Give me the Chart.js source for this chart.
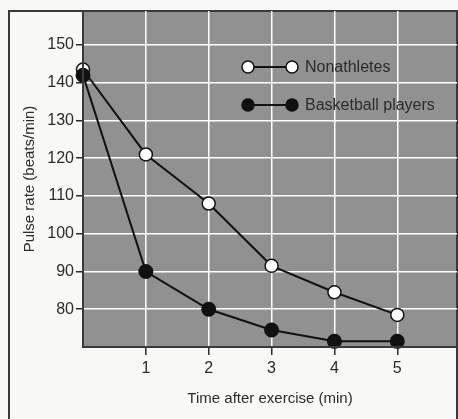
<!DOCTYPE html>
<html>
<head>
<meta charset="utf-8">
<script src="https://cdn.jsdelivr.net/npm/chart.js@4"></script>
<style>
  html, body { margin: 0; padding: 0; background: #f8f8f6; }
  #wrap { width: 458px; height: 419px; }
</style>
</head>
<body>
<div id="wrap"><canvas id="pulse"></canvas></div>
<script>
// Pulse rate after exercise
const minutes = [0, 1, 2, 3, 4, 5];
const nonathletes = [143.5, 121, 108, 91.5, 84.5, 78.5];
const basketball = [142, 90, 80, 74.5, 71.5, 71.5];
const yTicks = [80, 90, 100, 110, 120, 130, 140, 150];
const xTicks = [1, 2, 3, 4, 5];

const ink = '#2b2b2b';
const plotGray = '#919191';
const font = "'Liberation Sans', Arial, sans-serif";

// frame + gray plot background, and the little legend inside the plot
const decor = {
  id: 'decor',
  beforeDraw(chart) {
    const { ctx, chartArea: a } = chart;
    ctx.save();
    ctx.fillStyle = plotGray;
    ctx.fillRect(a.left, a.top, a.right - a.left, a.bottom - a.top);
    ctx.strokeStyle = '#3a3a3a';
    ctx.lineWidth = 2;
    ctx.beginPath();
    ctx.moveTo(9, 419);
    ctx.lineTo(9, 11);
    ctx.lineTo(457, 11);
    ctx.lineTo(457, 419);
    ctx.stroke();
    ctx.restore();
  },
  afterDraw(chart) {
    const { ctx, chartArea: a } = chart;
    ctx.save();
    ctx.strokeStyle = '#3a3a3a';
    ctx.lineWidth = 2;
    ctx.beginPath();
    ctx.moveTo(a.left, a.top);
    ctx.lineTo(a.left, a.bottom);
    ctx.lineTo(a.right, a.bottom);
    ctx.stroke();

    const items = [
      { label: 'Nonathletes', fill: '#ffffff', y: 67 },
      { label: 'Basketball players', fill: '#111111', y: 105 }
    ];
    items.forEach(it => {
      ctx.strokeStyle = '#111';
      ctx.lineWidth = 2;
      ctx.beginPath();
      ctx.moveTo(248, it.y);
      ctx.lineTo(292, it.y);
      ctx.stroke();
      [248, 292].forEach(x => {
        ctx.beginPath();
        ctx.arc(x, it.y, 6, 0, Math.PI * 2);
        ctx.fillStyle = it.fill;
        ctx.fill();
        ctx.lineWidth = 1.5;
        ctx.stroke();
      });
      ctx.fillStyle = ink;
      ctx.font = '16px ' + font;
      ctx.textBaseline = 'middle';
      ctx.fillText(it.label, 305, it.y + 1);
    });
    ctx.restore();
  }
};

new Chart(document.getElementById('pulse'), {
  type: 'line',
  data: {
    labels: minutes,
    datasets: [
      {
        label: 'Basketball players',
        data: minutes.map((m, i) => ({ x: m, y: basketball[i] })),
        borderColor: '#111',
        borderWidth: 2,
        backgroundColor: '#111',
        pointBackgroundColor: '#111',
        pointBorderColor: '#111',
        pointRadius: 6.5,
        tension: 0,
        order: 0
      },
      {
        label: 'Nonathletes',
        data: minutes.map((m, i) => ({ x: m, y: nonathletes[i] })),
        borderColor: '#111',
        borderWidth: 2,
        backgroundColor: '#fff',
        pointBackgroundColor: '#fff',
        pointBorderColor: '#111',
        pointBorderWidth: 1.5,
        pointRadius: 6.5,
        tension: 0,
        order: 1
      }
    ]
  },
  options: {
    responsive: true,
    maintainAspectRatio: false,
    animation: false,
    clip: false,
    layout: { autoPadding: false, padding: { top: 11, right: 1, left: 0, bottom: 0 } },
    plugins: { legend: { display: false }, tooltip: { enabled: false } },
    scales: {
      x: {
        type: 'linear',
        min: 0,
        max: 5.95,
        afterFit(s) { s.height = 72; s.paddingRight = 0; s.paddingLeft = 0; },
        afterBuildTicks(s) { s.ticks = xTicks.map(v => ({ value: v })); },
        grid: { color: '#ffffff', lineWidth: 1.5, tickColor: ink, tickLength: 8, drawTicks: true },
        border: { display: false },
        ticks: { color: ink, padding: 4, font: { family: font, size: 16 } },
        title: { display: true, text: 'Time after exercise (min)', color: ink, padding: { top: 0, bottom: 11 }, font: { family: font, size: 15 } }
      },
      y: {
        min: 70,
        max: 159,
        afterFit(s) { s.width = 83; s.paddingTop = 0; s.paddingBottom = 0; },
        afterBuildTicks(s) { s.ticks = yTicks.map(v => ({ value: v })); },
        grid: { color: '#ffffff', lineWidth: 1.5, tickColor: ink, tickLength: 7, drawTicks: true },
        border: { display: false },
        ticks: { color: ink, padding: 2, font: { family: font, size: 16 } },
        title: { display: true, text: 'Pulse rate (beats/min)', color: ink, padding: { top: 21, bottom: 0 }, font: { family: font, size: 15 } }
      }
    }
  },
  plugins: [decor]
});
</script>
</body>
</html>
